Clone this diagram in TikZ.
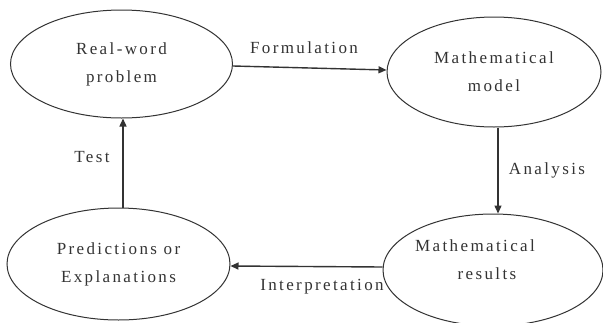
\documentclass[tikz,border=0pt]{standalone}
\usepackage{fontspec}
\setmainfont{Liberation Serif}[LetterSpace=14]
\usetikzlibrary{arrows.meta,shapes.geometric}
\definecolor{ink}{HTML}{333333}
\tikzset{
  stage/.style={draw=ink, line width=1pt, ellipse, inner sep=0pt, text=ink, align=center,
    font=\fontsize{17}{28}\selectfont},
  flow/.style={draw=ink, line width=1.4pt, -{Triangle[length=8pt,width=7pt]}},
  lbl/.style={text=ink, font=\fontsize{17}{20}\selectfont}
}
\begin{document}
\begin{tikzpicture}[x=1pt,y=-1pt]
\useasboundingbox (0,0) rectangle (603,322);
\fill[white] (0,0) rectangle (603,322);
\node[stage, minimum width=222pt, minimum height=108pt] (real) at (121.5,64) {Real-word\\problem};
\node[stage, minimum width=214pt, minimum height=110pt] (model) at (494,72) {Mathematical\\model};
\node[stage, minimum width=223pt, minimum height=112pt] (pred) at (118.5,264) {Predictions or\\Explanations};
\node[stage, minimum width=220pt, minimum height=112pt] (res) at (493,270) {\hspace*{-36pt}Mathematical\\\hspace*{-12pt}results\\[-8pt]\mbox{}};
\draw[flow] ([yshift=-2pt]real.east) -- ([yshift=2pt]model.west);
\draw[flow] ([xshift=4pt]model.south) -- ([xshift=5pt]res.north);
\draw[flow] ([yshift=3pt]res.west) -- ([yshift=-2pt]pred.east);
\draw[flow] ([xshift=4.5pt]pred.north) -- ([xshift=1.5pt]real.south);
\node[lbl] (lf) at (304,48) {Formulation};
\node[lbl] (la) at (547,170) {Analysis};
\node[lbl] (li) at (322,287) {Interpretation};
\node[lbl] (lt) at (92,157) {Test};
\end{tikzpicture}
\end{document}
